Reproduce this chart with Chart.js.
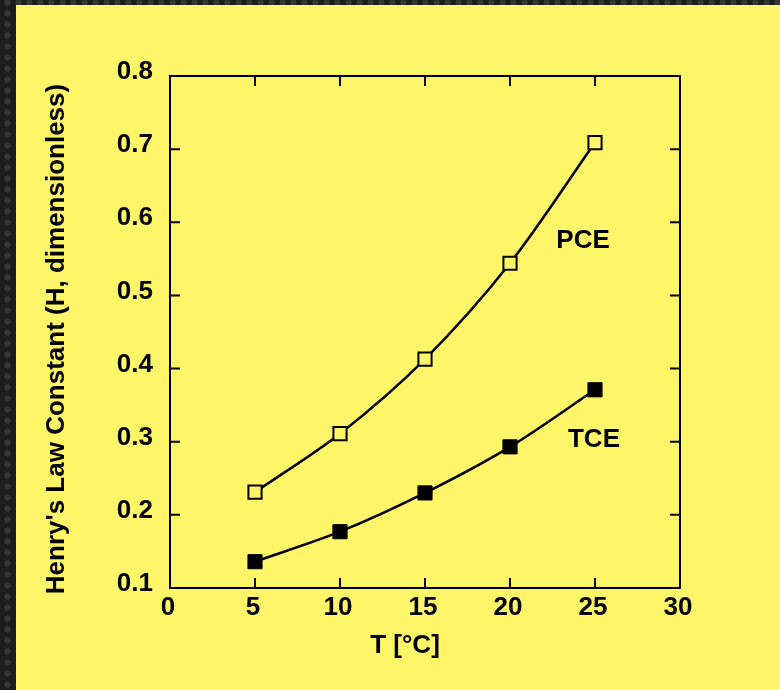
<!DOCTYPE html>
<html>
<head>
<meta charset="utf-8">
<script src="https://cdn.jsdelivr.net/npm/chart.js@4"></script>
<style>
  html, body { margin: 0; padding: 0; }
  body {
    width: 780px; height: 690px; overflow: hidden; position: relative;
    background-color: #1c1c1c;
    background-image: radial-gradient(circle, #3a3a3a 0, #333 38%, rgba(0,0,0,0) 44%);
    background-size: 11px 11px;
    background-position: 2px -3px;
  }
  #wrap {
    position: absolute; left: 16px; top: 5px; width: 764px; height: 685px;
    background: #fff569;
  }
  canvas { display: block; }
</style>
</head>
<body>
<div id="wrap"><canvas id="c" width="764" height="685"></canvas></div>
<script>
// ---- data ----
const temps = [5, 10, 15, 20, 25];
const pceValues = [0.231, 0.311, 0.413, 0.544, 0.709];
const tceValues = [0.136, 0.177, 0.230, 0.293, 0.371];
const xTicks = [0, 5, 10, 15, 20, 25, 30];
const yTicks = [0.1, 0.2, 0.3, 0.4, 0.5, 0.6, 0.7, 0.8];
const seriesNames = ['PCE', 'TCE'];
const xTitle = 'T [°C]';
const yTitle = "Henry's Law Constant (H, dimensionless)";
// label anchors in data units
const pceLabelAt = [24.3, 0.574];
const tceLabelAt = [24.94, 0.302];

const YELLOW = '#fff569';
const FONT = '"Liberation Sans", Arial, Helvetica, sans-serif';
const FS = 26;

const framePlugin = {
  id: 'frame',
  afterDraw(chart) {
    const { ctx, chartArea: a, scales: { x, y } } = chart;
    ctx.save();
    ctx.strokeStyle = '#000';
    ctx.lineWidth = 2;
    ctx.strokeRect(a.left, a.top, a.right - a.left, a.bottom - a.top);
    const tl = 10;
    ctx.beginPath();
    xTicks.forEach(v => {
      const px = x.getPixelForValue(v);
      ctx.moveTo(px, a.bottom); ctx.lineTo(px, a.bottom - tl);
      ctx.moveTo(px, a.top); ctx.lineTo(px, a.top + tl);
    });
    yTicks.forEach(v => {
      const py = y.getPixelForValue(v);
      ctx.moveTo(a.left, py); ctx.lineTo(a.left + tl, py);
      ctx.moveTo(a.right, py); ctx.lineTo(a.right - tl, py);
    });
    ctx.stroke();

    ctx.fillStyle = '#000';
    ctx.font = 'bold ' + FS + 'px ' + FONT;
    ctx.textAlign = 'center';
    ctx.textBaseline = 'middle';
    ctx.fillText(seriesNames[0], x.getPixelForValue(pceLabelAt[0]), y.getPixelForValue(pceLabelAt[1]));
    ctx.fillText(seriesNames[1], x.getPixelForValue(tceLabelAt[0]), y.getPixelForValue(tceLabelAt[1]));

    // axis titles
    ctx.fillText(xTitle, (a.left + a.right) / 2 - 20, a.bottom + 58);
    ctx.save();
    ctx.translate(41, (a.top + a.bottom) / 2 + 7);
    ctx.rotate(-Math.PI / 2);
    ctx.fillText(yTitle, 0, 0);
    ctx.restore();
    ctx.restore();
  }
};

new Chart(document.getElementById('c'), {
  type: 'line',
  data: {
    datasets: [
      {
        label: seriesNames[0],
        data: temps.map((t, i) => ({ x: t, y: pceValues[i] })),
        borderColor: '#000',
        borderWidth: 2.5,
        tension: 0.3,
        pointStyle: 'rect',
        pointRadius: 9.3,
        pointBorderWidth: 2,
        pointBorderColor: '#000',
        pointBackgroundColor: YELLOW,
        fill: false
      },
      {
        label: seriesNames[1],
        data: temps.map((t, i) => ({ x: t, y: tceValues[i] })),
        borderColor: '#000',
        borderWidth: 2.5,
        tension: 0.3,
        pointStyle: 'rect',
        pointRadius: 10,
        pointBorderWidth: 1,
        pointBorderColor: '#000',
        pointBackgroundColor: '#000',
        fill: false
      }
    ]
  },
  options: {
    responsive: false,
    animation: false,
    events: [],
    layout: { padding: { left: 0, right: 100, top: 71, bottom: 0 } },
    plugins: { legend: { display: false }, tooltip: { enabled: false } },
    scales: {
      x: {
        type: 'linear',
        min: 0, max: 30,
        afterBuildTicks: s => { s.ticks = xTicks.map(v => ({ value: v })); },
        afterFit: s => { s.height = 102; },
        grid: { display: false },
        border: { display: false },
        ticks: {
          color: '#000',
          font: { family: FONT, size: FS, weight: 'bold' },
          padding: -4,
          labelOffset: -2,
          maxRotation: 0,
          autoSkip: false,
          callback: v => String(v)
        }
      },
      y: {
        type: 'linear',
        min: 0.1, max: 0.8,
        afterBuildTicks: s => { s.ticks = yTicks.map(v => ({ value: v })); },
        afterFit: s => { s.width = 154; },
        grid: { display: false },
        border: { display: false },
        ticks: {
          color: '#000',
          font: { family: FONT, size: FS, weight: 'bold' },
          padding: 9,
          labelOffset: -4,
          autoSkip: false,
          callback: v => Number(v).toFixed(1)
        }
      }
    }
  },
  plugins: [framePlugin]
});
</script>
</body>
</html>
